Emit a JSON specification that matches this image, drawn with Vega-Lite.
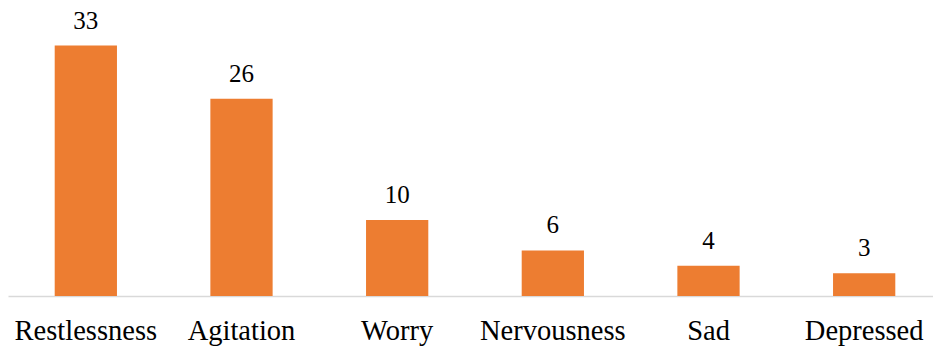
{
  "$schema": "https://vega.github.io/schema/vega-lite/v6.json",
  "autosize": {"type": "none"},
  "padding": {"left": 8, "top": 0, "right": 0, "bottom": 51},
  "width": 934,
  "height": 296,
  "background": "white",
  "data": {"values": [
    {"category": "Restlessness", "value": 33},
    {"category": "Agitation", "value": 26},
    {"category": "Worry", "value": 10},
    {"category": "Nervousness", "value": 6},
    {"category": "Sad", "value": 4},
    {"category": "Depressed", "value": 3}
  ]},
  "encoding": {
    "x": {"field": "category", "type": "nominal", "sort": null,
      "scale": {"paddingInner": 0.6, "paddingOuter": 0.3},
      "axis": {"title": null, "labelAngle": 0, "ticks": false, "labelFont": "Liberation Serif", "labelFontSize": 28.5, "labelColor": "#000000", "labelBaseline": "alphabetic", "labelPadding": 43, "domainColor": "#D9D9D9", "domainWidth": 1.5}},
    "y": {"field": "value", "type": "quantitative",
      "scale": {"domain": [0, 39], "nice": false},
      "axis": null}
  },
  "layer": [
    {"mark": {"type": "bar", "color": "#ED7D31"}},
    {"mark": {"type": "text", "font": "Liberation Serif", "fontSize": 25, "color": "#000000", "baseline": "alphabetic", "dy": -17},
     "encoding": {"text": {"field": "value", "type": "quantitative"}}}
  ],
  "config": {"view": {"stroke": null}}
}
